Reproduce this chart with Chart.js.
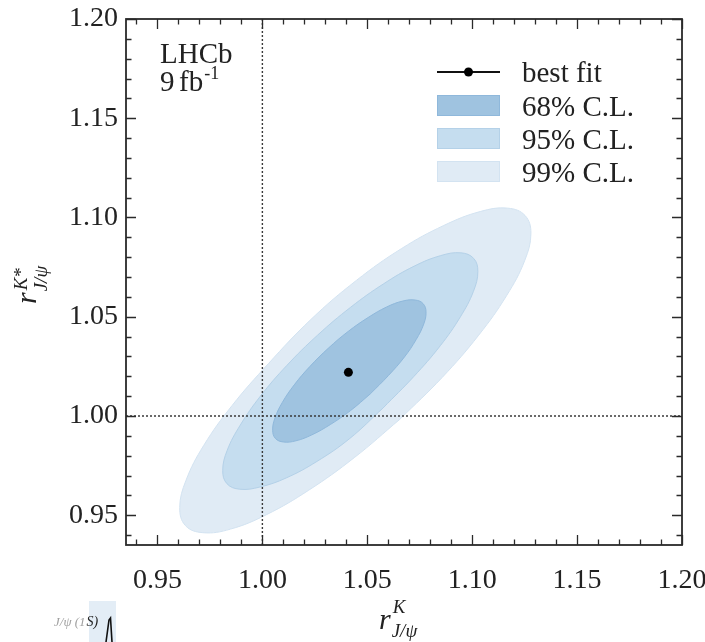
<!DOCTYPE html>
<html>
<head>
<meta charset="utf-8">
<script src="https://cdn.jsdelivr.net/npm/chart.js@4.4.1/dist/chart.umd.min.js"></script>
<style>
  html, body { margin: 0; padding: 0; background: #fff; }
  #wrap { width: 705px; height: 642px; }
</style>
</head>
<body>
<div id="wrap"><canvas id="c" width="705" height="642"></canvas></div>
<script>
// Axis range and labelled ticks (same for both axes)
const axisMin = 0.935;
const axisMax = 1.20;
const tickValues = [0.95, 1.00, 1.05, 1.10, 1.15, 1.20];
const tickLabels = ['0.95', '1.00', '1.05', '1.10', '1.15', '1.20'];

// SM expectation lines
const refK = 1.00;
const refKstar = 1.00;

// Best-fit point
const bestFitK = 1.041;
const bestFitKstar = 1.022;

// Confidence-level names
const levelNames = ['68% C.L.', '95% C.L.', '99% C.L.'];

// 99% C.L. contour (r_K, r_K*)
const cl99K = [1.1252, 1.1280, 1.1250, 1.1165, 1.1031, 1.0857, 1.0655, 1.0438, 1.0221, 1.0020, 0.9848, 0.9716, 0.9633, 0.9606, 0.9636, 0.9720, 0.9855, 1.0029, 1.0231, 1.0448, 1.0664, 1.0865, 1.1038, 1.1170];
const cl99Kstar = [1.1010, 1.0920, 1.0782, 1.0608, 1.0407, 1.0194, 0.9983, 0.9790, 0.9626, 0.9503, 0.9430, 0.9412, 0.9448, 0.9539, 0.9676, 0.9851, 1.0052, 1.0264, 1.0486, 1.0683, 1.0844, 1.0960, 1.1030, 1.1047];

// 95% C.L. contour
const cl95K = [1.1007, 1.1027, 1.1006, 1.0944, 1.0848, 1.0722, 1.0575, 1.0417, 1.0260, 1.0114, 0.9988, 0.9892, 0.9831, 0.9811, 0.9832, 0.9894, 0.9990, 1.0116, 1.0263, 1.0421, 1.0578, 1.0724, 1.0850, 1.0946];
const cl95Kstar = [1.0794, 1.0728, 1.0628, 1.0500, 1.0354, 1.0199, 1.0040, 0.9887, 0.9771, 0.9688, 0.9642, 0.9631, 0.9659, 0.9725, 0.9826, 0.9953, 1.0099, 1.0254, 1.0407, 1.0548, 1.0666, 1.0755, 1.0808, 1.0822];

// 68% C.L. contour
const cl68K = [1.0766, 1.0780, 1.0769, 1.0733, 1.0677, 1.0601, 1.0514, 1.0420, 1.0324, 1.0236, 1.0160, 1.0100, 1.0062, 1.0049, 1.0060, 1.0095, 1.0152, 1.0227, 1.0315, 1.0409, 1.0504, 1.0592, 1.0669, 1.0729];
const cl68Kstar = [1.0566, 1.0525, 1.0463, 1.0385, 1.0297, 1.0204, 1.0111, 1.0027, 0.9957, 0.9905, 0.9875, 0.9869, 0.9887, 0.9928, 0.9990, 1.0068, 1.0157, 1.0250, 1.0342, 1.0426, 1.0496, 1.0549, 1.0579, 1.0584];

// Fill / edge colours per level
const fillColors = ['#9fc3e0', '#c5ddef', '#e0ebf5'];
const edgeColors = ['#8fb8db', '#b4d1e8', '#d3e3f1'];

// Closed outline starting on a flat stretch so the spline seam stays invisible
function closedLoop(xs, ys, start) {
  const n = xs.length;
  const pts = [];
  for (let k = 0; k <= n; k++) {
    const i = (start + k) % n;
    pts.push({ x: xs[i], y: ys[i] });
  }
  return pts;
}

const serif = '"Liberation Serif", "DejaVu Serif", serif';
const ink = '#222222';

// Inward ticks on all four sides plus the frame
const axesFrame = {
  id: 'axesFrame',
  afterDatasetsDraw(chart) {
    const { ctx, chartArea: a, scales: { x, y } } = chart;
    ctx.save();
    ctx.strokeStyle = '#2a2a2a';
    ctx.lineWidth = 1.3;
    ctx.beginPath();
    for (let k = 93; k <= 120; k++) {
      const v = k / 100;
      if (v < axisMin - 1e-9 || v > axisMax + 1e-9) continue;
      const len = (k % 5 === 0) ? 10 : 5.5;
      const px = Math.round(x.getPixelForValue(v)) + 0.5;
      const py = Math.round(y.getPixelForValue(v)) + 0.5;
      ctx.moveTo(px, a.bottom); ctx.lineTo(px, a.bottom - len);
      ctx.moveTo(px, a.top); ctx.lineTo(px, a.top + len);
      ctx.moveTo(a.left, py); ctx.lineTo(a.left + len, py);
      ctx.moveTo(a.right, py); ctx.lineTo(a.right - len, py);
    }
    ctx.stroke();
    ctx.lineWidth = 1.8;
    ctx.strokeRect(a.left, a.top, a.right - a.left, a.bottom - a.top);
    ctx.restore();
  }
};

// Axis titles, experiment label, legend
const annotations = {
  id: 'annotations',
  afterDraw(chart) {
    const { ctx } = chart;
    ctx.save();
    ctx.fillStyle = ink;
    ctx.textBaseline = 'alphabetic';
    ctx.textAlign = 'left';

    // experiment label
    ctx.font = '29px ' + serif;
    ctx.fillText('LHCb', 160, 63);
    ctx.fillText('9', 160, 91);
    ctx.fillText('fb', 179, 91);
    const fbw = ctx.measureText('fb').width;
    ctx.font = '18px ' + serif;
    ctx.fillText('-1', 179 + fbw + 1, 79);

    // x-axis title
    ctx.font = 'italic 30px ' + serif;
    ctx.fillText('r', 379, 629);
    const rw = ctx.measureText('r').width;
    ctx.font = 'italic 19px ' + serif;
    ctx.fillText('K', 379 + rw + 2, 613);
    ctx.fillText('J/\u03c8', 379 + rw + 1, 637);

    // y-axis title
    ctx.save();
    ctx.translate(36, 304);
    ctx.rotate(-Math.PI / 2);
    ctx.font = 'italic 30px ' + serif;
    ctx.fillText('r', 0, 0);
    ctx.font = 'italic 19px ' + serif;
    ctx.fillText('K*', rw + 2, -9);
    ctx.fillText('J/\u03c8', rw + 1, 11);
    ctx.restore();

    // legend
    const lx0 = 437, lx1 = 500, tx = 522;
    ctx.strokeStyle = '#111';
    ctx.lineWidth = 2;
    ctx.beginPath(); ctx.moveTo(lx0, 72); ctx.lineTo(lx1, 72); ctx.stroke();
    ctx.fillStyle = '#000';
    ctx.beginPath(); ctx.arc((lx0 + lx1) / 2, 72, 4.5, 0, Math.PI * 2); ctx.fill();
    ctx.fillStyle = ink;
    ctx.font = '29px ' + serif;
    ctx.fillText('best fit', tx, 82);
    const rowTop = [95, 128, 161];
    const rowBase = [116, 149, 182];
    for (let i = 0; i < levelNames.length; i++) {
      ctx.fillStyle = fillColors[i];
      ctx.fillRect(lx0, rowTop[i], lx1 - lx0, 21);
      ctx.strokeStyle = edgeColors[i];
      ctx.lineWidth = 1;
      ctx.strokeRect(lx0 + 0.5, rowTop[i] + 0.5, lx1 - lx0 - 1, 20);
      ctx.fillStyle = ink;
      ctx.fillText(levelNames[i], tx, rowBase[i]);
    }

    // stray fragment at the lower left corner
    ctx.fillStyle = '#e3edf6';
    ctx.fillRect(89, 601, 27, 41);
    ctx.fillStyle = '#a0a0a0';
    ctx.font = 'italic 13px ' + serif;
    ctx.fillText('J/\u03c8 (1', 54, 626);
    const fw = ctx.measureText('J/\u03c8 (1').width;
    ctx.fillStyle = '#222';
    ctx.font = 'italic 14px ' + serif;
    ctx.fillText('S)', 54 + fw + 1, 626);
    ctx.strokeStyle = '#111';
    ctx.lineWidth = 1.6;
    ctx.beginPath();
    ctx.moveTo(106, 642); ctx.lineTo(109, 620); ctx.lineTo(110.5, 618); ctx.lineTo(112, 642);
    ctx.stroke();
    ctx.restore();
  }
};

const contourDataset = (i, xs, ys, order) => ({
  type: 'line',
  label: levelNames[i],
  data: closedLoop(xs, ys, 6),
  backgroundColor: fillColors[i],
  borderColor: edgeColors[i],
  borderWidth: 1,
  pointRadius: 0,
  tension: 0.4,
  fill: 'shape',
  order: order
});

new Chart(document.getElementById('c'), {
  type: 'line',
  data: {
    datasets: [
      {
        label: 'best fit',
        type: 'scatter',
        data: [{ x: bestFitK, y: bestFitKstar }],
        backgroundColor: '#000',
        borderColor: '#000',
        pointRadius: 4.5,
        pointBorderWidth: 0,
        showLine: false,
        order: 0
      },
      {
        label: 'ref-x',
        data: [{ x: refK, y: axisMin }, { x: refK, y: axisMax }],
        borderColor: '#3a3a3a',
        borderWidth: 1.4,
        borderDash: [2, 2],
        pointRadius: 0,
        fill: false,
        order: 1
      },
      {
        label: 'ref-y',
        data: [{ x: axisMin, y: refKstar }, { x: axisMax, y: refKstar }],
        borderColor: '#3a3a3a',
        borderWidth: 1.4,
        borderDash: [2, 2],
        pointRadius: 0,
        fill: false,
        order: 1
      },
      contourDataset(0, cl68K, cl68Kstar, 2),
      contourDataset(1, cl95K, cl95Kstar, 3),
      contourDataset(2, cl99K, cl99Kstar, 4)
    ]
  },
  options: {
    responsive: false,
    devicePixelRatio: 1,
    animation: false,
    layout: { padding: { top: 19, right: 23, left: 0, bottom: 0 } },
    plugins: {
      legend: { display: false },
      tooltip: { enabled: false },
      title: { display: false }
    },
    scales: {
      x: {
        type: 'linear',
        min: axisMin,
        max: axisMax,
        grid: { display: false, drawTicks: false },
        border: { display: false },
        afterBuildTicks: s => { s.ticks = tickValues.map(v => ({ value: v })); },
        afterFit: s => { s.height = 97; s.paddingLeft = 0; s.paddingRight = 0; },
        ticks: {
          padding: 19,
          maxRotation: 0,
          autoSkip: false,
          color: ink,
          font: { family: serif, size: 28 },
          callback: (v) => tickLabels[tickValues.findIndex(t => Math.abs(t - v) < 1e-6)]
        }
      },
      y: {
        type: 'linear',
        min: axisMin,
        max: axisMax,
        grid: { display: false, drawTicks: false },
        border: { display: false },
        afterBuildTicks: s => { s.ticks = tickValues.map(v => ({ value: v })); },
        afterFit: s => { s.width = 126; s.paddingTop = 0; s.paddingBottom = 0; },
        ticks: {
          padding: 8,
          autoSkip: false,
          color: ink,
          font: { family: serif, size: 28 },
          callback: (v) => tickLabels[tickValues.findIndex(t => Math.abs(t - v) < 1e-6)]
        }
      }
    }
  },
  plugins: [axesFrame, annotations]
});
</script>
</body>
</html>
